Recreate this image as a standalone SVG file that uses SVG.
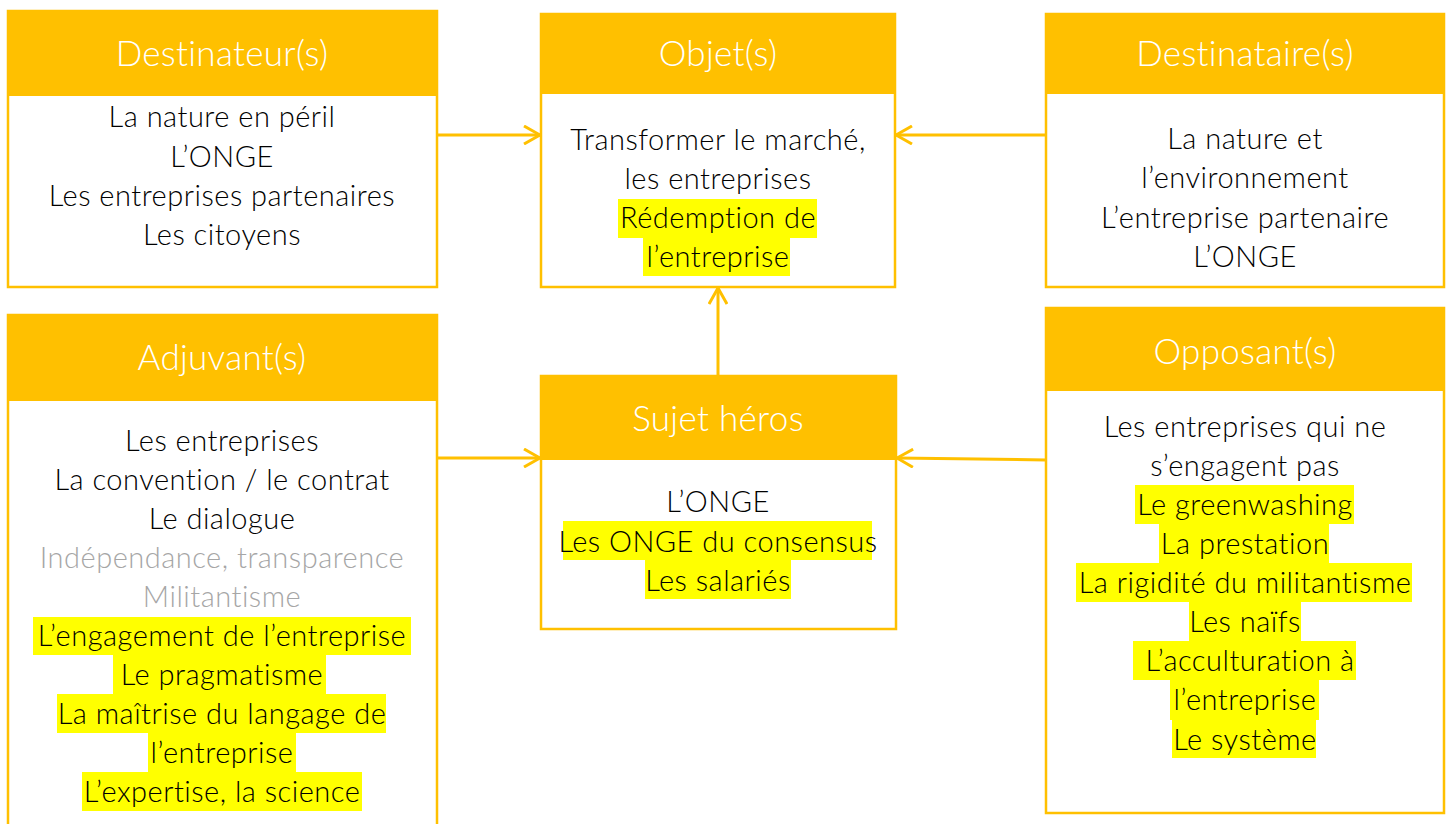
<svg xmlns="http://www.w3.org/2000/svg" width="1451" height="824" viewBox="0 0 1451 824">
<defs>
<style>
.box{fill:#fff;stroke:#FFC000;stroke-width:2.5}
.hdr{fill:#FFC000}
.title{font-family:Lato,"Liberation Sans",sans-serif;font-weight:300;font-size:35px;letter-spacing:0.3px;fill:#fff;text-anchor:middle}
.t{font-family:Lato,"Liberation Sans",sans-serif;font-weight:300;font-size:29px;letter-spacing:0.5px;fill:#000;text-anchor:middle}
.g{fill:#A6A6A6}
.hl{fill:#FFFF00}
.c{fill:none;stroke:#FFC000;stroke-width:3}
</style>
<marker id="ah" viewBox="0 0 20 20" refX="18" refY="10" markerWidth="20" markerHeight="20" markerUnits="userSpaceOnUse" orient="auto">
<path d="M2,1 L18,10 L2,19" fill="none" stroke="#FFC000" stroke-width="3"/>
</marker>
</defs>
<rect width="1451" height="824" fill="#fff"/>

<g id="destinateur">
<rect class="box" x="8" y="11" width="429" height="276"/>
<rect class="hdr" x="8" y="11" width="429" height="85"/>
<text class="title" x="222" y="66">Destinateur(s)</text>
<text class="t" x="222" y="127">La nature en péril</text>
<text class="t" x="222" y="167">L’ONGE</text>
<text class="t" x="222" y="206">Les entreprises partenaires</text>
<text class="t" x="222" y="245">Les citoyens</text>
</g>

<g id="objet">
<rect class="box" x="541" y="14" width="354" height="273"/>
<rect class="hdr" x="541" y="14" width="354" height="80"/>
<text class="title" x="718" y="66">Objet(s)</text>
<rect class="hl" x="618" y="199" width="199" height="39"/>
<rect class="hl" x="643" y="238" width="147" height="38"/>
<text class="t" x="718" y="150">Transformer le marché,</text>
<text class="t" x="718" y="189">les entreprises</text>
<text class="t" x="718" y="228">Rédemption de</text>
<text class="t" x="718" y="267">l’entreprise</text>
</g>

<g id="destinataire">
<rect class="box" x="1046" y="14" width="398" height="273"/>
<rect class="hdr" x="1046" y="14" width="398" height="80"/>
<text class="title" x="1245" y="66">Destinataire(s)</text>
<text class="t" x="1245" y="149">La nature et</text>
<text class="t" x="1245" y="188">l’environnement</text>
<text class="t" x="1245" y="228">L’entreprise partenaire</text>
<text class="t" x="1245" y="267">L’ONGE</text>
</g>

<g id="adjuvant">
<rect class="box" x="8" y="315" width="429" height="520"/>
<rect class="hdr" x="8" y="315" width="429" height="86"/>
<text class="title" x="222" y="370">Adjuvant(s)</text>
<rect class="hl" x="33" y="617" width="378" height="38"/>
<rect class="hl" x="113" y="655" width="213" height="39"/>
<rect class="hl" x="57" y="694" width="329" height="39"/>
<rect class="hl" x="148" y="733" width="148" height="39"/>
<rect class="hl" x="82" y="772" width="280" height="39"/>
<text class="t" x="222" y="451">Les entreprises</text>
<text class="t" x="222" y="490">La convention / le contrat</text>
<text class="t" x="222" y="529">Le dialogue</text>
<text class="t g" x="222" y="568">Indépendance, transparence</text>
<text class="t g" x="222" y="607">Militantisme</text>
<text class="t" x="222" y="646">L’engagement de l’entreprise</text>
<text class="t" x="222" y="685">Le pragmatisme</text>
<text class="t" x="222" y="724">La maîtrise du langage de</text>
<text class="t" x="222" y="763">l’entreprise</text>
<text class="t" x="222" y="802">L’expertise, la science</text>
</g>

<g id="sujet">
<rect class="box" x="541" y="376" width="355" height="253"/>
<rect class="hdr" x="541" y="376" width="355" height="84"/>
<text class="title" x="718" y="431">Sujet héros</text>
<rect class="hl" x="563" y="521" width="309" height="39"/>
<rect class="hl" x="645" y="560" width="146" height="39"/>
<text class="t" x="718" y="512">L’ONGE</text>
<text class="t" x="718" y="552">Les ONGE du consensus</text>
<text class="t" x="718" y="591">Les salariés</text>
</g>

<g id="opposant">
<rect class="box" x="1046" y="308" width="398" height="505"/>
<rect class="hdr" x="1046" y="308" width="398" height="83"/>
<text class="title" x="1245" y="364">Opposant(s)</text>
<rect class="hl" x="1135" y="485" width="219" height="39"/>
<rect class="hl" x="1159" y="524" width="170" height="39"/>
<rect class="hl" x="1076" y="563" width="336" height="39"/>
<rect class="hl" x="1189" y="602" width="112" height="39"/>
<rect class="hl" x="1133" y="641" width="223" height="39"/>
<rect class="hl" x="1170" y="680" width="149" height="40"/>
<rect class="hl" x="1172" y="720" width="144" height="38"/>
<text class="t" x="1245" y="437">Les entreprises qui ne</text>
<text class="t" x="1245" y="476">s’engagent pas</text>
<text class="t" x="1245" y="515">Le greenwashing</text>
<text class="t" x="1245" y="554">La prestation</text>
<text class="t" x="1245" y="593">La rigidité du militantisme</text>
<text class="t" x="1245" y="632">Les naïfs</text>
<text class="t" x="1250" y="671">L’acculturation à</text>
<text class="t" x="1245" y="710">l’entreprise</text>
<text class="t" x="1245" y="750">Le système</text>
</g>

<g id="connectors">
<line class="c" x1="437" y1="135" x2="540" y2="135" marker-end="url(#ah)"/>
<line class="c" x1="1046" y1="135" x2="896" y2="135" marker-end="url(#ah)"/>
<line class="c" x1="718" y1="376" x2="718" y2="288" marker-end="url(#ah)"/>
<line class="c" x1="437" y1="458" x2="540" y2="458" marker-end="url(#ah)"/>
<line class="c" x1="1046" y1="460" x2="897" y2="458" marker-end="url(#ah)"/>
</g>
</svg>
